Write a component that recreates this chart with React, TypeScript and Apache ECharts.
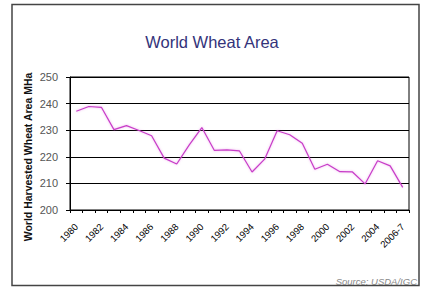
import React, { useEffect, useRef } from "react";
import * as echarts from "echarts";

const years = [
  "1980", "1981", "1982", "1983", "1984", "1985", "1986", "1987", "1988", "1989",
  "1990", "1991", "1992", "1993", "1994", "1995", "1996", "1997", "1998", "1999",
  "2000", "2001", "2002", "2003", "2004", "2005", "2006-7",
];
const wheatArea = [
  237.1, 238.9, 238.6, 230.2, 231.7, 229.9, 227.9, 219.5, 217.3, 224.5,
  231.0, 222.4, 222.6, 222.2, 214.3, 219.1, 229.8, 228.3, 225.1, 215.3,
  217.2, 214.4, 214.3, 209.8, 218.5, 216.6, 208.5,
];
const yMin = 200;
const yMax = 250;
const yStep = 10;
const FONT = "Liberation Sans, Arial, sans-serif";

export default function App() {
  const ref = useRef<HTMLDivElement>(null);
  useEffect(() => {
    if (!ref.current) return;
    const chart = echarts.init(ref.current, null, { renderer: "svg" });
    chart.setOption({
      animation: false,
      backgroundColor: "#ffffff",
      title: {
        text: "World Wheat Area",
        left: "center",
        top: 28,
        textStyle: {
          fontFamily: FONT,
          fontSize: 16.5,
          fontWeight: "normal",
          color: "#33337a",
        },
      },
      grid: {
        left: 70,
        right: 15,
        top: 77,
        bottom: 79,
        show: true,
        borderColor: "#000",
        borderWidth: 1,
        containLabel: false,
      },
      xAxis: {
        type: "category",
        data: years,
        boundaryGap: true,
        axisLine: { show: true, lineStyle: { color: "#000", width: 1 } },
        axisTick: { show: true, length: 3, lineStyle: { color: "#000" }, alignWithLabel: false, interval: 0 },
        axisLabel: {
          interval: 1,
          rotate: 45,
          fontSize: 9.5,
          color: "#000",
          margin: 15,
          fontFamily: FONT,
        },
        splitLine: { show: false },
      },
      yAxis: {
        type: "value",
        min: yMin,
        max: yMax,
        interval: yStep,
        axisLine: { show: true, lineStyle: { color: "#000", width: 1 } },
        axisTick: { show: true, inside: false, length: 4, lineStyle: { color: "#000" } },
        axisLabel: {
          fontSize: 11,
          color: "#555",
          margin: 12,
          fontFamily: FONT,
        },
        splitLine: { show: true, lineStyle: { color: "#000", width: 1 } },
      },
      series: [
        {
          type: "line",
          data: wheatArea,
          symbol: "none",
          lineStyle: { color: "#c83cc8", width: 1.2, shadowColor: "rgba(220,100,220,0.5)", shadowBlur: 2 },
          itemStyle: { color: "#c83cc8" },
        },
      ],
      graphic: [
        {
          type: "rect",
          shape: { x: 12, y: 4.5, width: 407, height: 281 },
          style: { fill: "none", stroke: "#444", lineWidth: 1.5 },
          silent: true,
        },
        {
          type: "text",
          x: 28,
          y: 157,
          rotation: Math.PI / 2,
          style: {
            text: "World Harvested Wheat Area MHa",
            fontSize: 10.5,
            fontWeight: "bold",
            fill: "#111",
            fontFamily: FONT,
            align: "center",
            verticalAlign: "middle",
          },
          silent: true,
        },
        {
          type: "text",
          x: 417,
          y: 281,
          style: {
            text: "Source: USDA/IGC",
            fontSize: 9.5,
            fontStyle: "italic",
            fill: "#888",
            fontFamily: FONT,
            align: "right",
            verticalAlign: "middle",
          },
          silent: true,
        },
      ],
    });
    return () => chart.dispose();
  }, []);
  return (
    <div
      ref={ref}
      style={{ position: "absolute", left: 0, top: 0, width: 424, height: 289 }}
    />
  );
}
